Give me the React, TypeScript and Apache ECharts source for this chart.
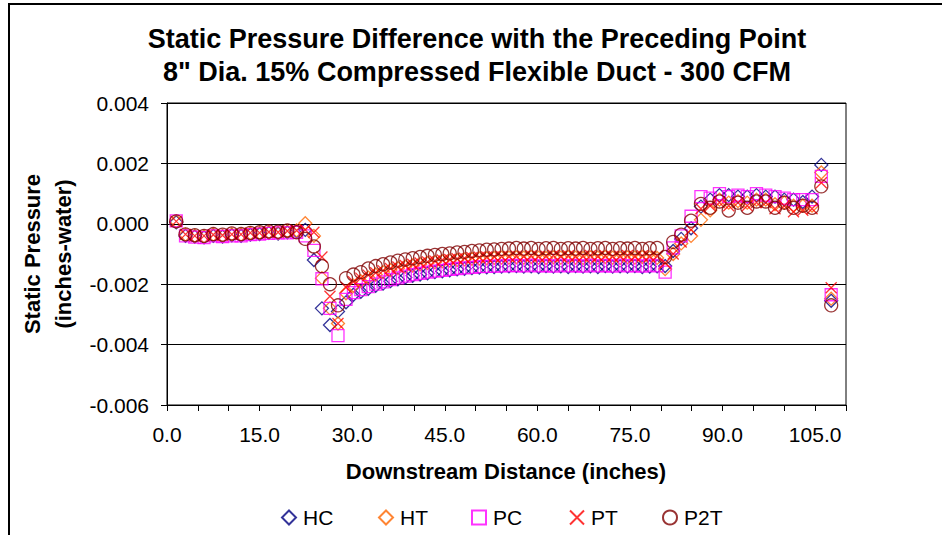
import React, { useEffect, useRef } from 'react';
import * as echarts from 'echarts';

// Downstream distance (inches)
const distance = [
  1.5, 3.0, 4.5, 6.0, 7.5, 9.0, 10.5, 12.0, 13.5, 15.0, 16.5, 18.0, 19.5, 21.0,
  22.4, 23.8, 25.1, 26.4, 27.7,
  29.0, 30.2, 31.4, 32.6, 33.8, 35.0, 36.2, 37.4, 38.6, 39.8, 41.0, 42.2, 43.4, 44.6, 45.8, 47.0, 48.2, 49.4, 50.6, 51.8, 53.0, 54.2, 55.4, 56.6,
  57.8, 59.0, 60.2, 61.4, 62.6, 63.8, 65.0, 66.2, 67.4, 68.6, 69.8, 71.0, 72.2, 73.4, 74.6, 75.8, 77.0, 78.2, 79.4,
  80.7, 82.0, 83.3, 84.9,
  86.5, 88.0, 89.5, 91.0, 92.5, 94.0, 95.5, 97.0, 98.5, 100.0, 101.5, 103.0, 104.5,
  106.0, 107.6,
];

const hcValues = [
  0.00005, -0.0004, -0.00042, -0.00045, -0.0004, -0.00042, -0.00038, -0.0004, -0.00036, -0.00034, -0.0003, -0.00032, -0.00028, -0.00025,
  -0.0002, -0.0012, -0.0028, -0.00335, -0.0029,
  -0.0026, -0.00235, -0.00225, -0.00215, -0.00205, -0.00198, -0.0019, -0.00184, -0.00178, -0.00172, -0.00168, -0.00164, -0.0016, -0.00157, -0.00154, -0.00151, -0.00149, -0.00147, -0.00145, -0.00144, -0.00143, -0.00142, -0.00141, -0.0014,
  -0.00142, -0.00141, -0.00143, -0.0014, -0.00142, -0.00141, -0.00143, -0.0014, -0.00142, -0.00141, -0.00143, -0.0014, -0.00142, -0.00141, -0.00142, -0.0014, -0.00143, -0.00142, -0.00141,
  -0.0014, -0.0009, -0.0005, -0.00015,
  0.00057, 0.0008, 0.00095, 0.00095, 0.0009, 0.0009, 0.00095, 0.0009, 0.0009, 0.0008, 0.0008, 0.00072, 0.0009,
  0.00195, -0.00255,
];

const htValues = [
  0.00008, -0.00036, -0.0004, -0.00042, -0.00036, -0.0004, -0.00035, -0.00036, -0.00032, -0.0003, -0.00028, -0.0003, -0.00025, -0.00022,
  0.00002, -0.0004, -0.0018, -0.0028, -0.0033,
  -0.0023, -0.00205, -0.0019, -0.00178, -0.00168, -0.0016, -0.00153, -0.00147, -0.00142, -0.00138, -0.00134, -0.0013, -0.00127, -0.00124, -0.00122, -0.0012, -0.00118, -0.00116, -0.00115, -0.00114, -0.00113, -0.00112, -0.00112, -0.00111,
  -0.00112, -0.0011, -0.00112, -0.00113, -0.00111, -0.00112, -0.0011, -0.00112, -0.00113, -0.00111, -0.00112, -0.0011, -0.00112, -0.00113, -0.00111, -0.00112, -0.0011, -0.00112, -0.00113,
  -0.0015, -0.001, -0.00065, -0.0004,
  0.00013, 0.00045, 0.0008, 0.0007, 0.00075, 0.0007, 0.0008, 0.0008, 0.00065, 0.0007, 0.0006, 0.0006, 0.0006,
  0.0017, -0.00248,
];

const pcValues = [
  0.0001, -0.0004, -0.00044, -0.00046, -0.0004, -0.00042, -0.0004, -0.0004, -0.00036, -0.00034, -0.00032, -0.0003, -0.0003, -0.00028,
  -0.0004, -0.00088, -0.00182, -0.0028, -0.0037,
  -0.0025, -0.00228, -0.00218, -0.00208, -0.002, -0.00192, -0.00185, -0.00179, -0.00173, -0.00168, -0.00164, -0.0016, -0.00157, -0.00154, -0.00151, -0.00148, -0.00146, -0.00144, -0.00142, -0.00141, -0.0014, -0.00139, -0.00138, -0.00138,
  -0.00139, -0.00137, -0.00139, -0.00138, -0.0014, -0.00137, -0.00139, -0.00138, -0.0014, -0.00137, -0.00139, -0.00138, -0.0014, -0.00137, -0.00139, -0.00138, -0.0014, -0.00137, -0.00139,
  -0.0016, -0.0008, -0.0004, 0.00025,
  0.0009, 0.00085, 0.001, 0.0009, 0.00095, 0.0009, 0.001, 0.00095, 0.0009, 0.00085, 0.0008, 0.0008, 0.0008,
  0.00157, -0.00235,
];

const ptValues = [
  0.00008, -0.00035, -0.0004, -0.0004, -0.00036, -0.00038, -0.00035, -0.00035, -0.0003, -0.0003, -0.00027, -0.00028, -0.00024, -0.00022,
  -0.0002, -0.00028, -0.0011, -0.0024, -0.0033,
  -0.0021, -0.00192, -0.0018, -0.0017, -0.00162, -0.00155, -0.00148, -0.00143, -0.00138, -0.00134, -0.0013, -0.00126, -0.00123, -0.0012, -0.00118, -0.00116, -0.00114, -0.00112, -0.00111, -0.0011, -0.00109, -0.00108, -0.00108, -0.00107,
  -0.00108, -0.00106, -0.00108, -0.00107, -0.00105, -0.00108, -0.00106, -0.00108, -0.00107, -0.00105, -0.00108, -0.00106, -0.00108, -0.00107, -0.00105, -0.00108, -0.00106, -0.00108, -0.00107,
  -0.0013, -0.001, -0.0006, -0.0002,
  0.0005, 0.0006, 0.0007, 0.0006, 0.0007, 0.0006, 0.0007, 0.0007, 0.0005, 0.0006, 0.0004, 0.00045, 0.0005,
  0.00136, -0.00212,
];

const p2tValues = [
  0.00008, -0.00035, -0.00038, -0.0004, -0.00034, -0.00036, -0.00032, -0.00034, -0.0003, -0.00028, -0.00025, -0.00026, -0.00022, -0.00028,
  -0.0005, -0.00075, -0.0014, -0.002, -0.0027,
  -0.0018, -0.00168, -0.0016, -0.00148, -0.0014, -0.00134, -0.00128, -0.00122, -0.00118, -0.00114, -0.0011, -0.00106, -0.00103, -0.001, -0.00098, -0.00095, -0.00093, -0.0009, -0.00088, -0.00086, -0.00085, -0.00083, -0.00082, -0.0008,
  -0.00082, -0.0008, -0.00083, -0.00081, -0.0008, -0.00083, -0.00081, -0.00082, -0.0008, -0.00083, -0.00081, -0.0008, -0.00083, -0.00081, -0.00082, -0.0008, -0.00083, -0.00081, -0.0008,
  -0.0011, -0.0006, -0.00036, 0.0001,
  0.00066, 0.00053, 0.00074, 0.00044, 0.0007, 0.00053, 0.00074, 0.00074, 0.00053, 0.0007, 0.00053, 0.0006, 0.00053,
  0.00124, -0.0027,
];

const seriesNames = ['HC', 'HT', 'PC', 'PT', 'P2T'];
const seriesColors = ['#000080', '#FF6600', '#FF00FF', '#FF0000', '#800000'];
const seriesSymbols = ['diamond', 'diamond', 'rect', 'path://M0,0L10,10M10,0L0,10', 'circle'];
const seriesSizes = [13, 13, 12, 11, 13];
const seriesValues = [hcValues, htValues, pcValues, ptValues, p2tValues];
const legendLefts = [281, 378, 471, 569, 662];

const xTicks = { min: 0, max: 110, interval: 5, labelEvery: 15 };
const yTicks = { min: -0.006, max: 0.004, interval: 0.002 };

const titleLines = [
  'Static Pressure Difference with the Preceding Point',
  '8" Dia. 15% Compressed Flexible Duct - 300 CFM',
];
const xTitle = 'Downstream Distance (inches)';
const yTitle = 'Static Pressure\n(inches-water)';

const FONT = '"Liberation Sans", Arial, Helvetica, sans-serif';

export default function App() {
  const ref = useRef<HTMLDivElement>(null);
  useEffect(() => {
    if (!ref.current) return;
    const chart = echarts.init(ref.current, null, { renderer: 'svg' });
    const series = seriesNames.map((name, k) => ({
      name,
      type: 'scatter',
      data: distance.map((x, i) => [x, seriesValues[k][i]]),
      symbol: seriesSymbols[k],
      symbolSize: seriesSizes[k],
      itemStyle: { color: 'rgba(0,0,0,0)', borderColor: seriesColors[k], borderWidth: 1.3 },
      emphasis: { disabled: true },
      z: 2 + k,
    }));
    const legends = seriesNames.map((name, k) => ({
      data: [name],
      left: legendLefts[k],
      top: 507,
      padding: 0,
      itemWidth: 14,
      itemHeight: 14,
      itemGap: 0,
      selectedMode: false,
      textStyle: { fontSize: 21, color: '#000', fontFamily: FONT, padding: [0, 0, 0, 2] },
    }));
    const txt = (text: string, x: number, y: number, size: number, extra: any = {}) => ({
      type: 'text',
      x,
      y,
      ...extra,
      style: {
        text,
        fill: '#000',
        fontSize: size,
        fontWeight: 'bold',
        fontFamily: FONT,
        align: 'center',
        verticalAlign: 'middle',
        textAlign: 'center',
        textVerticalAlign: 'middle',
        lineHeight: 31,
      },
    });
    chart.setOption({
      animation: false,
      backgroundColor: '#fff',
      grid: {
        left: 167,
        top: 103,
        width: 679,
        height: 302,
        show: true,
        borderColor: '#000',
        borderWidth: 1,
        backgroundColor: '#fff',
      },
      legend: legends,
      xAxis: {
        type: 'value',
        min: xTicks.min,
        max: xTicks.max,
        interval: xTicks.interval,
        axisLine: { onZero: false, lineStyle: { color: '#000', width: 1 } },
        axisTick: { show: true, length: 6, lineStyle: { color: '#000' } },
        axisLabel: {
          fontSize: 21,
          color: '#000',
          fontFamily: FONT,
          margin: 19,
          formatter: (v: number) => (Math.abs(v % xTicks.labelEvery) < 1e-9 ? v.toFixed(1) : ''),
        },
        splitLine: { show: false },
      },
      yAxis: {
        type: 'value',
        min: yTicks.min,
        max: yTicks.max,
        interval: yTicks.interval,
        axisLine: { onZero: false, lineStyle: { color: '#000', width: 1 } },
        axisTick: { show: true, length: 6, lineStyle: { color: '#000' } },
        axisLabel: {
          fontSize: 21,
          color: '#000',
          fontFamily: FONT,
          margin: 18,
          formatter: (v: number) => (Math.abs(v) < 1e-9 ? '0.000' : v.toFixed(3)),
        },
        splitLine: { show: true, lineStyle: { color: '#000', width: 1 } },
      },
      graphic: [
        {
          type: 'rect',
          shape: { x: 9, y: 4, width: 960, height: 560 },
          style: { fill: 'none', stroke: '#000', lineWidth: 2 },
          silent: true,
        },
        txt(titleLines[0], 477, 39, 27),
        txt(titleLines[1], 477, 72, 27),
        txt(xTitle, 506, 471, 22),
        txt(yTitle, 48, 254, 22, { rotation: Math.PI / 2 }),
      ],
      series,
    });
    return () => chart.dispose();
  }, []);
  return (
    <div
      ref={ref}
      style={{ position: 'absolute', left: 0, top: 0, width: 942, height: 535, background: '#fff' }}
    />
  );
}
